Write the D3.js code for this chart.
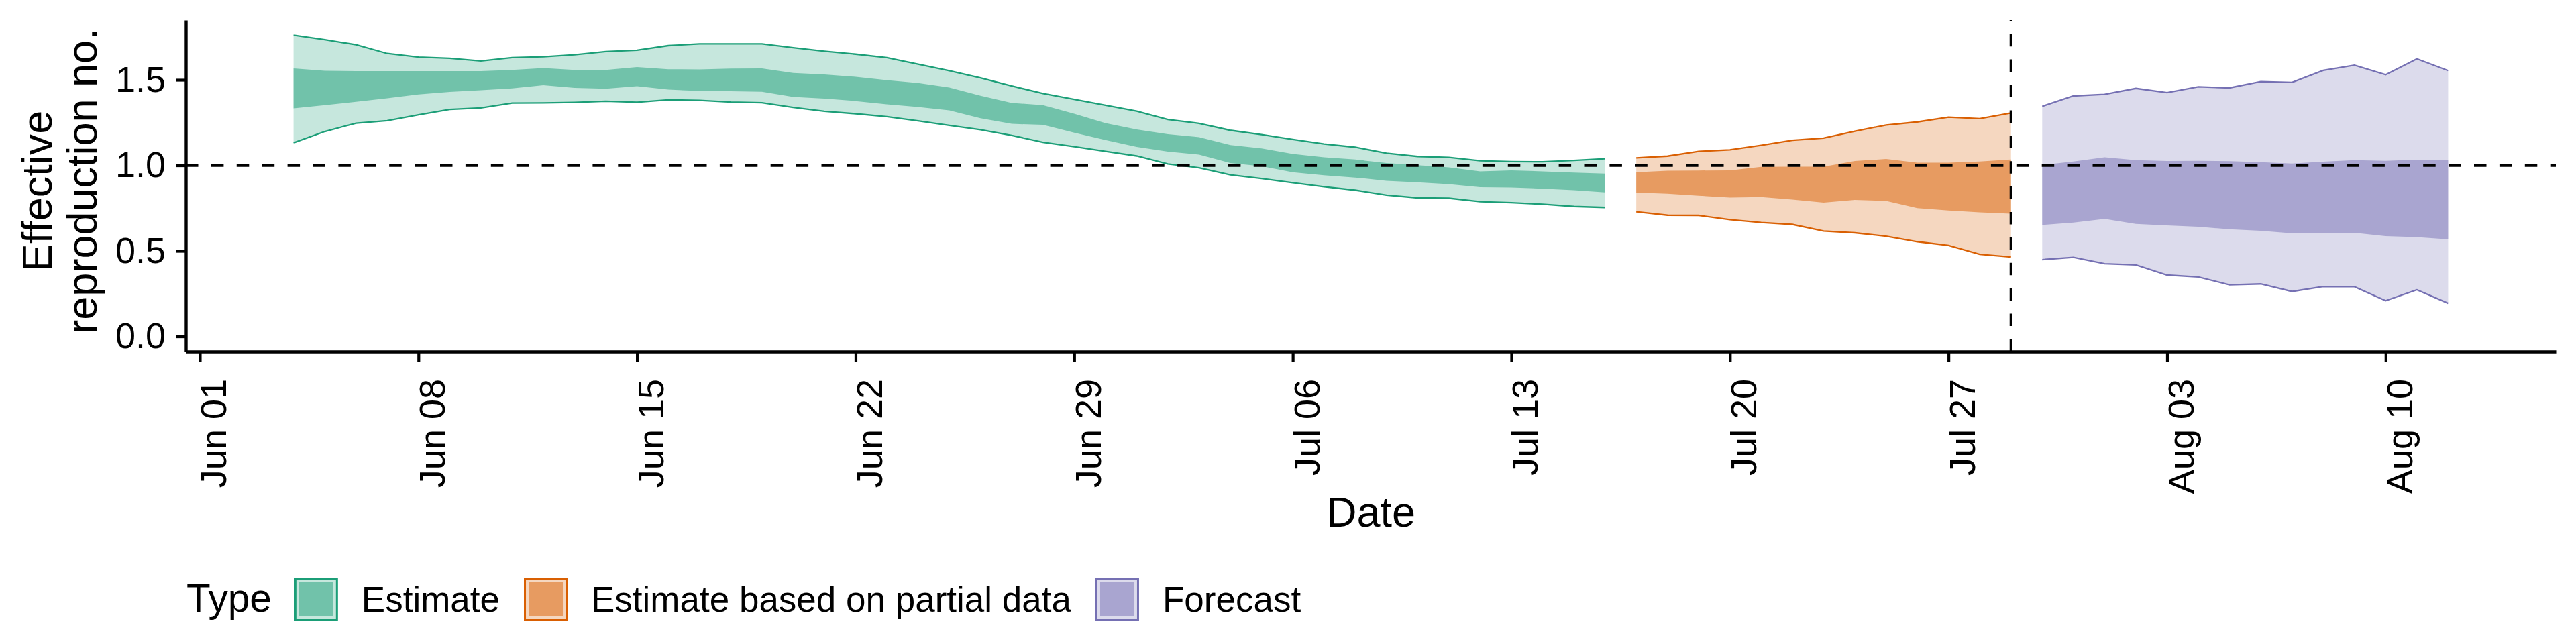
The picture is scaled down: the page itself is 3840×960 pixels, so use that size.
<!DOCTYPE html>
<html>
<head>
<meta charset="utf-8" />
<title>Effective reproduction number</title>
<style>
html, body {
    margin: 0px;
    padding: 0px;
    background: #ffffff;
}
svg {
    display: block;
    font-family: "Liberation Sans", Arial, sans-serif;
}
</style>
</head>
<body>
<div id="chart"></div>
<script src="https://cdnjs.cloudflare.com/ajax/libs/d3/7.8.5/d3.min.js"></script>
<script>
// days covered by each type of estimate
var estimateDays = d3.timeDay.range(new Date(2020, 5, 4), new Date(2020, 6, 17))   // Jun 04 - Jul 16
var partialDays  = d3.timeDay.range(new Date(2020, 6, 17), new Date(2020, 6, 30))  // Jul 17 - Jul 29
var forecastDays = d3.timeDay.range(new Date(2020, 6, 30), new Date(2020, 7, 13))  // Jul 30 - Aug 12

var estimateUpper90 = [1.761, 1.735, 1.705, 1.654, 1.633, 1.626, 1.610, 1.630, 1.635, 1.647, 1.665, 1.673, 1.700,
    1.710, 1.710, 1.710, 1.688, 1.667, 1.650, 1.630, 1.592, 1.553, 1.511, 1.464, 1.420, 1.386, 1.352, 1.317,
    1.268, 1.246, 1.205, 1.180, 1.152, 1.125, 1.106, 1.071, 1.052, 1.047, 1.027, 1.022, 1.021, 1.029, 1.039]
var estimateLower90 = [1.132, 1.198, 1.247, 1.261, 1.296, 1.327, 1.336, 1.364, 1.365, 1.368, 1.375, 1.369, 1.383,
    1.380, 1.370, 1.366, 1.339, 1.316, 1.302, 1.285, 1.260, 1.234, 1.208, 1.175, 1.135, 1.109, 1.082, 1.055,
    1.008, 0.986, 0.945, 0.923, 0.899, 0.875, 0.855, 0.826, 0.810, 0.808, 0.788, 0.782, 0.773, 0.760, 0.754]
var estimateUpper50 = [1.567, 1.553, 1.551, 1.551, 1.551, 1.551, 1.551, 1.558, 1.569, 1.558, 1.558, 1.575, 1.562,
    1.561, 1.566, 1.567, 1.540, 1.531, 1.518, 1.498, 1.481, 1.455, 1.407, 1.365, 1.352, 1.302, 1.247, 1.210,
    1.182, 1.165, 1.119, 1.099, 1.067, 1.047, 1.034, 1.014, 1.001, 0.988, 0.965, 0.971, 0.965, 0.958, 0.952]
var estimateLower50 = [1.333, 1.352, 1.372, 1.392, 1.415, 1.429, 1.439, 1.450, 1.469, 1.453, 1.448, 1.463, 1.443,
    1.435, 1.433, 1.430, 1.400, 1.390, 1.376, 1.357, 1.341, 1.322, 1.276, 1.243, 1.237, 1.191, 1.148, 1.108,
    1.080, 1.063, 1.014, 0.995, 0.960, 0.942, 0.929, 0.910, 0.901, 0.890, 0.873, 0.871, 0.864, 0.855, 0.842]

var partialUpper90 = [1.044, 1.054, 1.082, 1.091, 1.117, 1.147, 1.159, 1.200, 1.236, 1.254, 1.282, 1.273, 1.306]
var partialLower90 = [0.729, 0.709, 0.708, 0.683, 0.666, 0.655, 0.616, 0.606, 0.586, 0.554, 0.532, 0.480, 0.464]
var partialUpper50 = [0.960, 0.969, 0.970, 0.971, 0.991, 0.992, 0.992, 1.026, 1.037, 1.016, 1.016, 1.023, 1.034]
var partialLower50 = [0.841, 0.834, 0.823, 0.812, 0.815, 0.800, 0.782, 0.798, 0.792, 0.750, 0.736, 0.726, 0.718]

var forecastUpper90 = [1.345, 1.406, 1.415, 1.450, 1.425, 1.459, 1.453, 1.490, 1.485, 1.555, 1.586, 1.530, 1.623, 1.554]
var forecastLower90 = [0.449, 0.462, 0.425, 0.418, 0.359, 0.348, 0.302, 0.307, 0.263, 0.292, 0.291, 0.209, 0.273, 0.194]
var forecastUpper50 = [1.002, 1.023, 1.047, 1.030, 1.026, 1.027, 1.025, 1.019, 1.011, 1.022, 1.030, 1.027, 1.033, 1.033]
var forecastLower50 = [0.652, 0.666, 0.687, 0.658, 0.649, 0.641, 0.627, 0.618, 0.603, 0.606, 0.606, 0.586, 0.581, 0.568]

var types = ["Estimate", "Estimate based on partial data", "Forecast"]
var colours = ["#1b9e77", "#d95f02", "#7570b3"]

var yTicks = [0, 0.5, 1, 1.5]
var xTicks = d3.timeDay.range(new Date(2020, 5, 1), new Date(2020, 7, 11), 7)   // weekly from Jun 01
var nowcastDate = new Date(2020, 6, 29)

!(function(){
    "use strict"

    var width = 3840, height = 960
    var panel = {left: 277, right: 3810, top: 30, bottom: 524}

    function rows(days, lo90, hi90, lo50, hi50) {
        return days.map(function(d, i) {
            return {date: d, lo90: lo90[i], hi90: hi90[i], lo50: lo50[i], hi50: hi50[i]}
        })
    }

    var series = [
        rows(estimateDays, estimateLower90, estimateUpper90, estimateLower50, estimateUpper50),
        rows(partialDays, partialLower90, partialUpper90, partialLower50, partialUpper50),
        rows(forecastDays, forecastLower90, forecastUpper90, forecastLower50, forecastUpper50)
    ].map(function(r, i) { return {type: types[i], colour: colours[i], values: r} })

    var allRows = d3.merge(series.map(function(s) { return s.values }))

    // ggplot-like 5% expansion
    var xExt = d3.extent(allRows, function(d) { return d.date })
    var xPad = (xExt[1] - xExt[0]) * 0.05
    var x = d3.scaleTime()
        .domain([new Date(+xExt[0] - xPad), new Date(+xExt[1] + xPad)])
        .range([panel.left, panel.right])

    var yMax = d3.max(allRows, function(d) { return d.hi90 })
    var yPad = yMax * 0.05
    var y = d3.scaleLinear()
        .domain([0 - yPad, yMax + yPad])
        .range([panel.bottom, panel.top])

    var svg = d3.select("#chart").append("svg")
        .attr("width", width)
        .attr("height", height)

    svg.append("rect").attr("width", width).attr("height", height).attr("fill", "#ffffff")

    var area90 = d3.area()
        .x(function(d) { return x(d.date) })
        .y0(function(d) { return y(d.lo90) })
        .y1(function(d) { return y(d.hi90) })
    var area50 = d3.area()
        .x(function(d) { return x(d.date) })
        .y0(function(d) { return y(d.lo50) })
        .y1(function(d) { return y(d.hi50) })
    var lineHi = d3.line().x(function(d) { return x(d.date) }).y(function(d) { return y(d.hi90) })
    var lineLo = d3.line().x(function(d) { return x(d.date) }).y(function(d) { return y(d.lo90) })

    var bands = svg.append("g").selectAll("g").data(series).enter().append("g")

    bands.append("path")
        .attr("d", function(s) { return area90(s.values) })
        .attr("fill", function(s) { return s.colour })
        .attr("fill-opacity", 0.25)
    bands.append("path")
        .attr("d", function(s) { return area50(s.values) })
        .attr("fill", function(s) { return s.colour })
        .attr("fill-opacity", 0.5)
    bands.append("path")
        .attr("d", function(s) { return lineHi(s.values) })
        .attr("fill", "none")
        .attr("stroke", function(s) { return s.colour })
        .attr("stroke-width", 2.3)
    bands.append("path")
        .attr("d", function(s) { return lineLo(s.values) })
        .attr("fill", "none")
        .attr("stroke", function(s) { return s.colour })
        .attr("stroke-width", 2.3)

    // reference lines
    svg.append("line")
        .attr("x1", panel.left).attr("x2", panel.right)
        .attr("y1", y(1)).attr("y2", y(1))
        .attr("stroke", "#000").attr("stroke-width", 4.5)
        .attr("stroke-dasharray", "18.5,19.4")
    svg.append("line")
        .attr("x1", x(nowcastDate)).attr("x2", x(nowcastDate))
        .attr("y1", panel.bottom).attr("y2", panel.top)
        .attr("stroke", "#000").attr("stroke-width", 4)
        .attr("stroke-dasharray", "18.5,19.4")

    // axes
    var yAxis = svg.append("g")
        .attr("transform", "translate(" + panel.left + ",0)")
        .call(d3.axisLeft(y).tickValues(yTicks).tickFormat(d3.format(".1f"))
            .tickSize(14).tickSizeOuter(0).tickPadding(16))
    var xAxis = svg.append("g")
        .attr("transform", "translate(0," + panel.bottom + ")")
        .call(d3.axisBottom(x).tickValues(xTicks).tickFormat(d3.timeFormat("%b %d"))
            .tickSize(15).tickSizeOuter(0))

    ;[yAxis, xAxis].forEach(function(ax) {
        ax.attr("font-family", null).attr("font-size", null)
        ax.select(".domain").attr("stroke", "#000").attr("stroke-width", 4.4)
        ax.selectAll(".tick line").attr("stroke", "#000").attr("stroke-width", 4.2)
        ax.selectAll(".tick text").attr("fill", "#000").style("font-size", "54px")
    })

    xAxis.selectAll(".tick text")
        .attr("text-anchor", "end")
        .attr("dy", null)
        .attr("x", 0)
        .attr("y", 39)
        .attr("transform", "translate(0,41) rotate(-90)")

    // axis titles
    svg.append("text")
        .attr("x", (panel.left + panel.right) / 2)
        .attr("y", 785)
        .attr("text-anchor", "middle")
        .style("font-size", "63px")
        .text("Date")

    svg.append("text")
        .attr("transform", "translate(77,285) rotate(-90)")
        .attr("text-anchor", "middle")
        .style("font-size", "63px")
        .text("Effective")
    svg.append("text")
        .attr("transform", "translate(144,270) rotate(-90)")
        .attr("text-anchor", "middle")
        .style("font-size", "63px")
        .text("reproduction no.")

    // legend
    var legend = svg.append("g")
    var lx = 278, baseY = 912, keyTop = 861, keySize = 65
    var title = legend.append("text")
        .attr("x", lx).attr("y", baseY)
        .style("font-size", "58.5px")
        .text("Type")
    lx += title.node().getComputedTextLength() + 34

    series.forEach(function(s) {
        legend.append("rect")
            .attr("x", lx + 1.5).attr("y", keyTop + 1.5)
            .attr("width", keySize - 3).attr("height", keySize - 3)
            .attr("fill", s.colour).attr("fill-opacity", 0.25)
            .attr("stroke", s.colour).attr("stroke-width", 3)
        legend.append("rect")
            .attr("x", lx + 7).attr("y", keyTop + 7)
            .attr("width", keySize - 14).attr("height", keySize - 14)
            .attr("fill", s.colour).attr("fill-opacity", 0.5)
        var t = legend.append("text")
            .attr("x", lx + keySize + 35).attr("y", baseY)
            .style("font-size", "53px")
            .text(s.type)
        lx += keySize + 35 + t.node().getComputedTextLength() + 36
    })
}());
</script>
</body>
</html>
